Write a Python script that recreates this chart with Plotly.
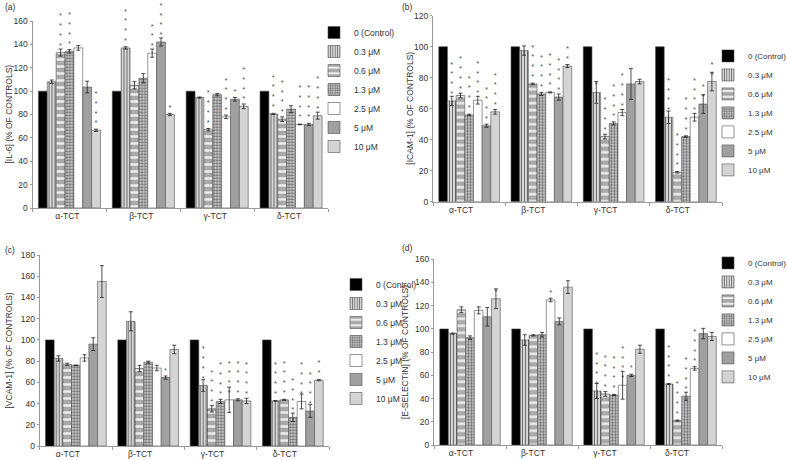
import plotly.graph_objects as go

# ---------------- data ----------------
categories = ["α-TCT", "β-TCT", "γ-TCT", "δ-TCT"]
series_names = ["0 (Control)", "0.3 μM", "0.6 μM", "1.3 μM", "2.5 μM", "5 μM", "10 μM"]
yticks_a = [0, 20, 40, 60, 80, 100, 120, 140, 160]
yticks_b = [0, 20, 40, 60, 80, 100, 120]
yticks_c = [0, 20, 40, 60, 80, 100, 120, 140, 160, 180]
yticks_d = [0, 20, 40, 60, 80, 100, 120, 140, 160]

# (a) IL-6, rows = series, columns = categories
il6_means = [
    [100, 100, 100, 100],
    [108, 137, 94.5, 80.5],
    [133, 105, 67, 76],
    [134, 111, 97, 84.5],
    [137, 132.5, 78, 71.5],
    [103.5, 142, 93, 71.5],
    [66.5, 80, 87, 79],
]
il6_errors = [
    [0, 0, 0, 0],
    [1.5, 1, 0.5, 0.5],
    [3, 3, 1, 2],
    [1.5, 4, 1, 3],
    [2, 3.5, 1.5, 0.3],
    [5, 3.5, 1.5, 1],
    [1, 1, 2, 3],
]
il6_stars = [
    [0, 0, 0, 0],
    [0, 4, 0, 4],
    [4, 0, 4, 4],
    [4, 0, 0, 0],
    [0, 3, 4, 4],
    [0, 4, 1, 4],
    [4, 1, 4, 4],
]

# (b) ICAM-1
icam_means = [
    [100, 100, 100, 100],
    [65, 97.5, 70.5, 54.5],
    [68.5, 76, 42, 19],
    [56, 69.5, 50.5, 42],
    [65.5, 70.5, 57.5, 54.5],
    [49, 67.5, 76, 63],
    [58, 87.5, 77.5, 77.5],
]
icam_errors = [
    [0, 0, 0, 0],
    [3, 3, 7, 4],
    [1.5, 0.5, 1.5, 0.5],
    [0.5, 1, 1, 0.5],
    [2.5, 0.3, 2, 2.5],
    [1, 2, 10, 6],
    [1.5, 1, 1.5, 6],
]
icam_stars = [
    [0, 0, 0, 0],
    [4, 0, 1, 4],
    [4, 4, 4, 4],
    [4, 4, 4, 4],
    [4, 4, 4, 4],
    [4, 4, 0, 2],
    [4, 2, 0, 2],
]

# (c) VCAM-1
vcam_means = [
    [100, 100, 100, 100],
    [82.5, 117.5, 57, 42.5],
    [77, 73, 35, 43.5],
    [76, 79, 42, 27],
    [83, 73.5, 43.5, 42],
    [96, 64.5, 43.5, 33],
    [155, 91, 42.5, 62],
]
vcam_errors = [
    [0, 0, 0, 0],
    [2.5, 9, 5.5, 0.3],
    [1, 3, 3, 0.5],
    [0.3, 1, 2, 4],
    [3, 2.5, 12, 7],
    [6, 1.5, 1, 6],
    [15, 4, 2.5, 0.5],
]
vcam_stars = [
    [0, 0, 0, 0],
    [0, 0, 4, 4],
    [0, 0, 4, 4],
    [0, 0, 4, 4],
    [0, 0, 4, 4],
    [0, 1, 4, 4],
    [0, 0, 4, 2],
]

# (d) E-selectin
esel_means = [
    [100, 100, 100, 100],
    [96, 90.5, 46.5, 52.5],
    [116.5, 94.5, 44, 21],
    [92.5, 95, 43, 42],
    [116, 125, 51.5, 66],
    [110.5, 106.5, 60, 96],
    [126, 136, 82.5, 93.5],
]
esel_errors = [
    [0, 0, 0, 0],
    [0.5, 4.5, 6.5, 0.5],
    [2.5, 0.5, 2, 0.5],
    [1.5, 2, 0.5, 3.5],
    [3, 1.5, 12, 1.5],
    [8, 3, 1, 4.5],
    [8.5, 5.5, 3.5, 3.5],
]
esel_stars = [
    [0, 0, 0, 0],
    [0, 0, 4, 4],
    [0, 0, 4, 4],
    [0, 0, 4, 4],
    [0, 1, 4, 4],
    [0, 0, 1, 0],
    [1, 0, 0, 0],
]

# ---------------- styles ----------------
W, H = 787, 460
FONT = "Liberation Sans, Arial, sans-serif"
TXT = "#333333"
AXC = "#9a9a9a"

styles = [
    dict(color="#000000", pattern=None),
    dict(color="#cfcfcf", pattern=dict(shape="|", bgcolor="#d6d6d6", fgcolor="#6e6e6e", size=3, solidity=0.35)),
    dict(color="#b4b4b4", pattern=dict(shape="-", bgcolor="#a9a9a9", fgcolor="#eeeeee", size=7, solidity=0.35)),
    dict(color="#c0c0c0", pattern=dict(shape=".", bgcolor="#cdcdcd", fgcolor="#6a6a6a", size=3, solidity=0.45)),
    dict(color="#ffffff", pattern=None),
    dict(color="#a0a0a0", pattern=None),
    dict(color="#d4d4d4", pattern=None),
]


def fx(p):
    return p / W


def fy(p):
    return 1 - p / H


panels = [
    dict(means=il6_means, errs=il6_errors, stars=il6_stars, ticks=yticks_a,
         title="[IL-6] (% OF CONTROLS)", label="(a)",
         xdom=(32.5, 328), ydom=(208, 21), shift=-2,
         leg=(314, 18), legfont=8.5, lab=(3, 7), ttl=(8, 114.5)),
    dict(means=icam_means, errs=icam_errors, stars=icam_stars, ticks=yticks_b,
         title="[ICAM-1] (% OF CONTROLS)", label="(b)",
         xdom=(433, 722), ydom=(201.7, 15.7), shift=-8,
         leg=(708, 41.4), legfont=8, lab=(400, 7), ttl=(410, 108.7)),
    dict(means=vcam_means, errs=vcam_errors, stars=vcam_stars, ticks=yticks_c,
         title="[VCAM-1] (% OF CONTROLS)", label="(c)",
         xdom=(39.7, 329), ydom=(446, 255), shift=-8,
         leg=(336, 270), legfont=8.5, lab=(3, 250), ttl=(8, 350.5)),
    dict(means=esel_means, errs=esel_errors, stars=esel_stars, ticks=yticks_d,
         title="[E-SELECTIN] (% OF CONTROLS)", label="(d)",
         xdom=(434, 722), ydom=(445, 259.3), shift=-9,
         leg=(708, 248.4), legfont=8, lab=(400, 248), ttl=(405, 352)),
]

fig = go.Figure()
annotations = []
layout = {}

for i, p in enumerate(panels):
    n = "" if i == 0 else str(i + 1)
    xa, ya, lg = "x" + n, "y" + n, "legend" + n
    for s, name in enumerate(series_names):
        st = styles[s]
        marker = dict(color=st["color"], line=dict(color="#505050", width=0.6))
        if st["pattern"]:
            marker["pattern"] = st["pattern"]
        stars = ["<br>".join(["*"] * k) for k in p["stars"][s]]
        fig.add_trace(go.Bar(
            x=categories, y=p["means"][s], name=name,
            xaxis=xa, yaxis=ya, legend=lg,
            marker=marker,
            error_y=dict(type="data", array=p["errs"][s], visible=any(p["errs"][s]),
                         color="#222222", thickness=0.8, width=2),
            text=stars, textposition="outside", textangle=0,
            constraintext="none", cliponaxis=False,
            textfont=dict(size=7.5, color="#555555", family=FONT),
            hoverinfo="x+y+name",
        ))
    x0, x1 = p["xdom"]
    yb, yt = p["ydom"]
    layout["xaxis" + n] = dict(
        domain=[fx(x0), fx(x1)], anchor=ya, type="category", automargin=False,
        range=[-0.5, 3.5], showline=True, linecolor=AXC, linewidth=1,
        ticks="outside", tickson="boundaries", ticklen=3, tickcolor=AXC,
        tickfont=dict(size=8.5, color=TXT, family=FONT),
        ticklabelshift=p["shift"], showgrid=False, zeroline=False, fixedrange=True,
    )
    layout["yaxis" + n] = dict(
        domain=[fy(yb), fy(yt)], anchor=xa, range=[p["ticks"][0], p["ticks"][-1]],
        automargin=False,
        tickvals=p["ticks"], showline=True, linecolor=AXC, linewidth=1,
        ticks="outside", ticklen=2, tickcolor=AXC,
        tickfont=dict(size=8.5, color=TXT, family=FONT),
        showgrid=False, zeroline=False, fixedrange=True,
    )
    lx, ly = p["leg"]
    layout[lg] = dict(
        x=fx(lx), y=fy(ly), xanchor="left", yanchor="top",
        bgcolor="rgba(0,0,0,0)", font=dict(size=p["legfont"], color=TXT, family=FONT),
        traceorder="normal", itemclick=False, itemdoubleclick=False,
    )
    annotations.append(dict(
        text=p["label"], x=fx(p["lab"][0]), y=fy(p["lab"][1]), xref="paper", yref="paper",
        xanchor="left", yanchor="middle", showarrow=False,
        font=dict(size=8.5, color=TXT, family=FONT)))
    annotations.append(dict(
        text=p["title"], x=fx(p["ttl"][0]), y=fy(p["ttl"][1]), xref="paper", yref="paper",
        xanchor="center", yanchor="middle", textangle=-90, showarrow=False,
        font=dict(size=8.5, color=TXT, family=FONT)))

fig.update_layout(
    template="none",
    width=W, height=H, margin=dict(l=0, r=0, t=0, b=0, pad=0, autoexpand=False),
    paper_bgcolor="white", plot_bgcolor="white",
    barmode="group", bargap=0.16, bargroupgap=0,
    font=dict(family=FONT, size=8.5, color=TXT),
    annotations=annotations, **layout,
)

fig.write_html("out.html", config={"displayModeBar": False},
               post_script="document.body.style.margin='0px';")
